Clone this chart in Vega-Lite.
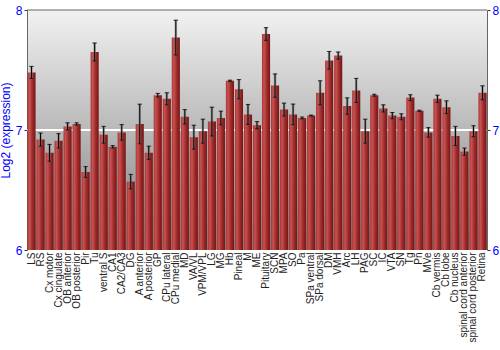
{
  "$schema": "https://vega.github.io/schema/vega-lite/v6.json",
  "autosize": "none",
  "width": 460,
  "height": 240,
  "padding": {"left": 27, "top": 10, "right": 13, "bottom": 100},
  "config": {
    "view": {"stroke": null, "fill": {"gradient": "linear", "x1": 0, "y1": 0, "x2": 0, "y2": 1, "stops": [{"offset": 0, "color": "#f2f2f2"}, {"offset": 1, "color": "#7f7f7f"}]}},
    "font": "Liberation Sans"
  },
  "datasets": {
    "expr": [
      {"n": "LS", "v": 7.48, "e": 0.05},
      {"n": "RS", "v": 6.92, "e": 0.055},
      {"n": "Cx motor", "v": 6.81, "e": 0.07},
      {"n": "Cx cingulate", "v": 6.91, "e": 0.06},
      {"n": "OB anterior", "v": 7.03, "e": 0.03},
      {"n": "OB posterior", "v": 7.05, "e": 0.01},
      {"n": "Pir", "v": 6.65, "e": 0.045},
      {"n": "Tu", "v": 7.65, "e": 0.075},
      {"n": "ventral S", "v": 6.96, "e": 0.07},
      {"n": "CA1", "v": 6.86, "e": 0.01},
      {"n": "CA2/CA3", "v": 6.98, "e": 0.065},
      {"n": "DG", "v": 6.57, "e": 0.06},
      {"n": "A anterior", "v": 7.05, "e": 0.165},
      {"n": "A posterior", "v": 6.81, "e": 0.055},
      {"n": "GP", "v": 7.29, "e": 0.015},
      {"n": "CPu lateral", "v": 7.26, "e": 0.05},
      {"n": "CPu medial", "v": 7.77, "e": 0.145},
      {"n": "MD", "v": 7.11, "e": 0.06},
      {"n": "VA/VL", "v": 6.94, "e": 0.1},
      {"n": "VPM/VPL", "v": 6.99, "e": 0.1},
      {"n": "LG", "v": 7.07, "e": 0.12},
      {"n": "MG", "v": 7.1, "e": 0.057},
      {"n": "Hb", "v": 7.41, "e": 0.005},
      {"n": "Pineal", "v": 7.34, "e": 0.08},
      {"n": "M", "v": 7.13, "e": 0.083},
      {"n": "ME", "v": 7.04, "e": 0.03},
      {"n": "Pituitary", "v": 7.8, "e": 0.053},
      {"n": "SCN", "v": 7.37, "e": 0.097},
      {"n": "MPA", "v": 7.17, "e": 0.054},
      {"n": "SO", "v": 7.13, "e": 0.086},
      {"n": "Pa", "v": 7.1, "e": 0.008},
      {"n": "SPa ventral", "v": 7.12, "e": 0.004},
      {"n": "SPa dorsal", "v": 7.31, "e": 0.1},
      {"n": "DM", "v": 7.58, "e": 0.074},
      {"n": "VMH", "v": 7.62, "e": 0.03},
      {"n": "Arc", "v": 7.2, "e": 0.068},
      {"n": "LH", "v": 7.33, "e": 0.1},
      {"n": "PAG", "v": 6.99, "e": 0.1},
      {"n": "SC", "v": 7.29, "e": 0.008},
      {"n": "IC", "v": 7.18, "e": 0.03},
      {"n": "VTA", "v": 7.12, "e": 0.026},
      {"n": "SN", "v": 7.11, "e": 0.025},
      {"n": "Tg", "v": 7.27, "e": 0.024},
      {"n": "Pn", "v": 7.16, "e": 0.005},
      {"n": "MVe", "v": 6.98, "e": 0.04},
      {"n": "Cb vermis", "v": 7.26, "e": 0.03},
      {"n": "Cb lobe", "v": 7.19, "e": 0.053},
      {"n": "Cb nucleus", "v": 6.95, "e": 0.08},
      {"n": "spinal cord anterior", "v": 6.82, "e": 0.03},
      {"n": "spinal cord posterior", "v": 6.99, "e": 0.046},
      {"n": "Retina", "v": 7.31, "e": 0.058}
    ]
  },
  "layer": [
    {
      "data": {"values": [{}]},
      "mark": {"type": "rule", "color": "#ffffff", "strokeWidth": 2},
      "encoding": {"y": {"datum": 7, "type": "quantitative", "scale": {"domain": [6, 8], "nice": false, "zero": false}, "axis": null}}
    },
    {
      "data": {"name": "expr"},
      "mark": {
        "type": "bar",
        "color": {
          "gradient": "linear", "x1": 0, "y1": 0, "x2": 1, "y2": 0,
          "stops": [
            {"offset": 0, "color": "#a83434"},
            {"offset": 0.25, "color": "#c85252"},
            {"offset": 0.6, "color": "#a02c2c"},
            {"offset": 1, "color": "#761414"}
          ]
        }
      },
      "encoding": {
        "x": {
          "field": "n", "type": "nominal", "sort": null,
          "scale": {"paddingInner": 0.1, "paddingOuter": 0.05},
          "axis": {"title": null, "domain": false, "ticks": false, "labelAngle": -90, "labelAlign": "right", "labelBaseline": "middle", "labelPadding": 2, "labelFontSize": 10, "labelColor": "#222222", "labelOverlap": false}
        },
        "y": {
          "field": "v", "type": "quantitative",
          "axis": {"title": "Log2 (expression)", "titleColor": "#0000ff", "titleFontSize": 12, "titleFontWeight": "normal", "titlePadding": 3, "tickCount": 2, "labelOverlap": false, "labelColor": "#0000ff", "labelFontSize": 12, "domainColor": "#666666", "tickColor": "#333333", "tickSize": 3, "labelPadding": 2, "grid": false}
        },
        "y2": {"datum": 6}
      }
    },
    {
      "data": {"name": "expr"},
      "mark": {"type": "errorbar", "ticks": {"size": 5, "color": "#777777", "opacity": 0.6, "strokeWidth": 2.5}, "rule": {"color": "#777777", "opacity": 0.6, "strokeWidth": 2.5}},
      "encoding": {
        "x": {"field": "n", "type": "nominal", "sort": null},
        "y": {"field": "v", "type": "quantitative", "axis": null},
        "yError": {"field": "e"}
      }
    },
    {
      "data": {"name": "expr"},
      "mark": {"type": "errorbar", "ticks": {"size": 4, "color": "#000000", "strokeWidth": 1}, "rule": {"color": "#000000", "strokeWidth": 1}},
      "encoding": {
        "x": {"field": "n", "type": "nominal", "sort": null},
        "y": {"field": "v", "type": "quantitative", "axis": null},
        "yError": {"field": "e"}
      }
    },
    {
      "data": {"values": [{}]},
      "mark": {"type": "rule", "color": "#666666", "strokeWidth": 1},
      "encoding": {
        "y": {"datum": 8, "type": "quantitative", "axis": {"orient": "right", "title": null, "tickCount": 2, "labelOverlap": false, "labelColor": "#0000ff", "labelFontSize": 12, "domainColor": "#666666", "tickColor": "#333333", "tickSize": 3, "labelPadding": 2, "grid": false}}
      }
    }
  ],
  "resolve": {"axis": {"y": "independent"}}
}
